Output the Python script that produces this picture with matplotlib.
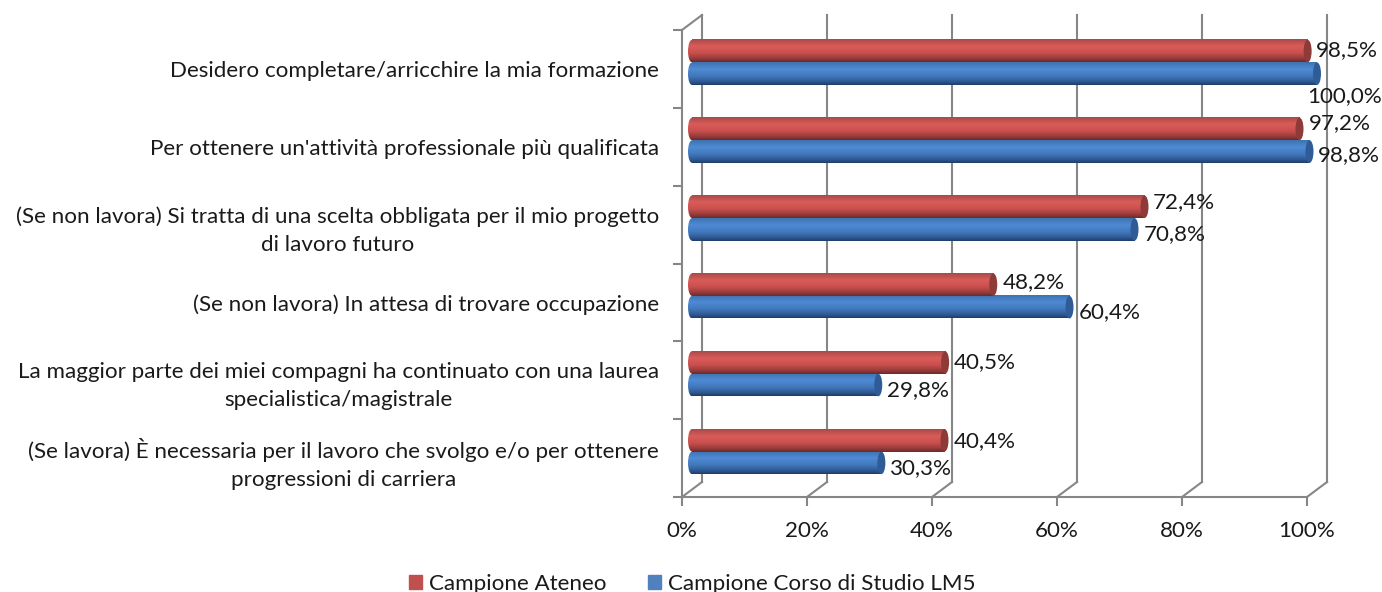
import matplotlib
matplotlib.use("Agg")
import matplotlib.pyplot as plt
import numpy as np
from matplotlib.colors import LinearSegmentedColormap
from matplotlib.patches import Ellipse, Patch
from matplotlib.transforms import Affine2D

plt.rcParams["font.family"] = ["Lato", "DejaVu Sans"]

categories = [
    "Desidero completare/arricchire la mia formazione",
    "Per ottenere un'attività professionale più qualificata",
    "(Se non lavora) Si tratta di una scelta obbligata per il mio progetto\ndi lavoro futuro",
    "(Se non lavora) In attesa di trovare occupazione",
    "La maggior parte dei miei compagni ha continuato con una laurea\nspecialistica/magistrale",
    "(Se lavora) È necessaria per il lavoro che svolgo e/o per ottenere\nprogressioni di carriera",
]
ateneo = [98.5, 97.2, 72.4, 48.2, 40.5, 40.4]
corso = [100.0, 98.8, 70.8, 60.4, 29.8, 30.3]
x_ticks = [0, 20, 40, 60, 80, 100]

# label nudges in pixels, the chart placed them by hand
ateneo_nudge = [(4, 1), (5, 6), (4, 5), (5, 3), (5, 0), (5, -1)]
corso_nudge = [(-14, -22), (4, -4), (5, -5), (5, -5), (5, -5), (5, -5)]

W, H = 1382, 592
GREY = "#868686"
TEXT = "#1a1a1a"
FS = 16.1
LW = 1.5

red_cmap = LinearSegmentedColormap.from_list(
    "red3d", [(0, "#a94a48"), (0.3, "#d95c5a"), (0.6, "#c9504e"), (0.85, "#963c3a"), (1, "#6e2a29")])
blue_cmap = LinearSegmentedColormap.from_list(
    "blue3d", [(0, "#3c73b0"), (0.3, "#4f8ad4"), (0.6, "#4279bd"), (0.85, "#2f5a94"), (1, "#1f3d68")])

fig = plt.figure(figsize=(W / 100, H / 100), dpi=100, facecolor="white")
ax = fig.add_axes([682 / W, 1 - 497 / H, 625 / W, 467 / H])
px_x = 625 / 100  # pixels per percent
px_y = 467 / 6  # pixels per category

bar_tr = ax.transData + Affine2D().translate(10, 6.5)
wall_tr = ax.transData + Affine2D().translate(20, 15)
grad = np.linspace(0, 1, 64).reshape(-1, 1)
bar_h = 22.5 / px_y
cap_w = 8 / px_x


def cylinder(y, val, cmap, cap_col, z):
    ax.barh(y, val, height=bar_h, color=cap_col, transform=bar_tr, zorder=z, clip_on=False)
    extent = (0, val, y + bar_h / 2, y - bar_h / 2)
    ax.imshow(grad, extent=extent, aspect="auto", origin="upper", cmap=cmap, vmin=0, vmax=1,
              transform=bar_tr, zorder=z, clip_on=False, interpolation="bilinear")
    left = Ellipse((0, y), cap_w, bar_h, transform=bar_tr, zorder=z, fc="none", ec="none", clip_on=False)
    ax.add_patch(left)
    im = ax.imshow(grad, extent=(-cap_w, cap_w, y + bar_h / 2, y - bar_h / 2), aspect="auto",
                   origin="upper", cmap=cmap, vmin=0, vmax=1, transform=bar_tr, zorder=z,
                   interpolation="bilinear")
    im.set_clip_path(left)
    ax.add_patch(Ellipse((val, y), cap_w, bar_h, transform=bar_tr, zorder=z + 0.1, fc=cap_col,
                         ec="none", clip_on=False))


# back wall gridlines with the floor diagonals
for t in x_ticks:
    ax.plot([t, t], [6, 0], color=GREY, lw=LW, transform=wall_tr, zorder=1, clip_on=False)
    ax.plot([t, t + 20 / px_x], [6, 6 - 15 / px_y], color=GREY, lw=LW, zorder=1, clip_on=False)
ax.plot([0, 20 / px_x], [0, -15 / px_y], color=GREY, lw=LW, zorder=1, clip_on=False)

shift = 11.3 / px_y
for i, (a, c) in enumerate(zip(ateneo, corso)):
    yc = i + 0.5
    cylinder(yc + shift, c, blue_cmap, "#2f5c96", 3)
    cylinder(yc - shift, a, red_cmap, "#8e3a38", 4)
    for val, y, nudge in ((a, yc - shift, ateneo_nudge[i]), (c, yc + shift, corso_nudge[i])):
        ax.annotate(f"{val:.1f}%".replace(".", ","), (val, y), xycoords=bar_tr,
                    xytext=(4 + nudge[0], nudge[1]), textcoords="offset pixels",
                    ha="left", va="center", fontsize=FS, color=TEXT, zorder=6)

ax.set_xlim(0, 100)
ax.set_ylim(6, 0)
ax.patch.set_alpha(0)
for s in ("top", "right"):
    ax.spines[s].set_visible(False)
for s in ("left", "bottom"):
    ax.spines[s].set_color(GREY)
    ax.spines[s].set_linewidth(LW)

ax.set_xticks(x_ticks)
ax.set_xticklabels([f"{t}%" for t in x_ticks], fontsize=FS, color=TEXT)
ax.set_yticks(range(7))
ax.set_yticklabels([])
ax.set_yticks(np.arange(6) + 0.5, minor=True)
ax.set_yticklabels(categories, minor=True, fontsize=FS, color=TEXT, ha="right",
                   multialignment="center", linespacing=1.5)
ax.tick_params(axis="both", which="major", color=GREY, width=LW, length=6.5)
ax.tick_params(axis="x", pad=11)
ax.tick_params(axis="y", which="minor", length=0, pad=16.5)

fig.legend(handles=[Patch(color="#c0504d", label="Campione Ateneo"),
                    Patch(color="#4f81bd", label="Campione Corso di Studio LM5")],
           loc="lower center", bbox_to_anchor=(692 / W, -0.022), ncols=2, frameon=False, fontsize=FS,
           labelcolor=TEXT, handlelength=0.6, handleheight=0.6, handletextpad=0.3, columnspacing=1.85,
           borderpad=0)

fig.savefig("out.png", dpi=100)
plt.close(fig)
